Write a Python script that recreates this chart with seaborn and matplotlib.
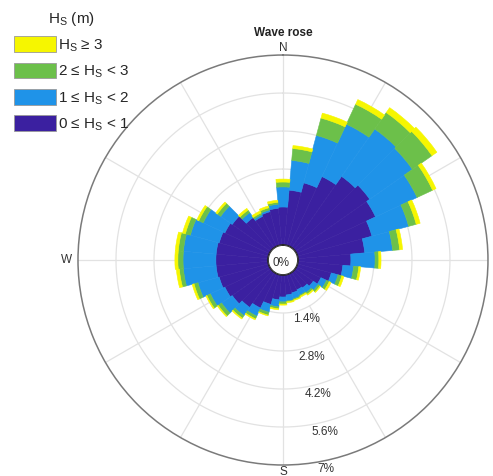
import numpy as np
import matplotlib
matplotlib.use("Agg")
import matplotlib.pyplot as plt
import seaborn as sns
from matplotlib.patches import Patch, Circle

# Direction bins (degrees, clockwise from north), 10-degree sectors
directions = [0, 10, 20, 30, 40, 50, 60, 70, 80, 90, 100, 110,
              120, 130, 140, 150, 160, 170, 180, 190, 200, 210, 220, 230,
              240, 250, 260, 270, 280, 290, 300, 310, 320, 330, 340, 350]

# Frequency of occurrence (%) per direction for each wave-height class
hs_0_1 = [1.40, 2.03, 2.39, 2.84, 3.21, 3.35, 3.21, 2.84, 2.47, 1.95, 1.66, 1.29,
          0.99, 0.81, 0.70, 0.66, 0.70, 0.74, 0.81, 0.92, 1.14, 1.40, 1.58, 1.73,
          1.81, 1.88, 1.92, 1.92, 1.92, 1.88, 1.81, 1.73, 1.36, 1.22, 1.29, 1.36]
hs_1_2 = [0.74, 1.10, 1.81, 2.13, 2.13, 1.92, 1.69, 1.40, 1.03, 0.89, 0.40, 0.26,
          0.23, 0.22, 0.22, 0.22, 0.22, 0.22, 0.18, 0.26, 0.30, 0.33, 0.37, 0.48,
          0.59, 0.81, 1.21, 1.21, 1.21, 1.10, 0.88, 0.52, 0.22, 0.07, 0.07, 0.15]
hs_2_3 = [0.18, 0.44, 0.66, 0.81, 0.74, 0.88, 0.63, 0.29, 0.26, 0.14, 0.19, 0.14,
          0.11, 0.08, 0.07, 0.04, 0.04, 0.03, 0.08, 0.07, 0.11, 0.11, 0.11, 0.15,
          0.14, 0.15, 0.15, 0.19, 0.19, 0.19, 0.18, 0.15, 0.11, 0.07, 0.08, 0.07]
hs_3_up = [0.11, 0.11, 0.19, 0.19, 0.22, 0.22, 0.14, 0.15, 0.11, 0.08, 0.07, 0.08,
           0.07, 0.03, 0.04, 0.04, 0.03, 0.04, 0.04, 0.04, 0.03, 0.04, 0.04, 0.04,
           0.04, 0.07, 0.11, 0.11, 0.11, 0.11, 0.08, 0.07, 0.08, 0.08, 0.07, 0.08]

ring_values = [1.4, 2.8, 4.2, 5.6, 7.0]
ring_labels = ["1.4%", "2.8%", "4.2%", "5.6%", "7%"]
class_labels = ["0 \u2264 H$_\\mathregular{S}$ < 1",
                "1 \u2264 H$_\\mathregular{S}$ < 2",
                "2 \u2264 H$_\\mathregular{S}$ < 3",
                "H$_\\mathregular{S}$ \u2265 3"]
class_colors = ["#3b20a0", "#1f93e8", "#6cc04a", "#f6f600"]

sns.set_theme(style="white")
plt.rcParams["font.family"] = ["Liberation Sans", "DejaVu Sans"]
plt.rcParams["mathtext.fontset"] = "custom"
plt.rcParams["mathtext.rm"] = "Liberation Sans"

fig = plt.figure(figsize=(4.93, 4.76), dpi=100)
ax = fig.add_axes([0.1582, 0.0231, 0.8316, 0.8613], projection="polar")
ax.set_theta_zero_location("N")
ax.set_theta_direction(-1)
ax.set_rorigin(-0.5526)
ax.set_ylim(0, 7)
ax.set_xticks([])
ax.set_yticks([])
ax.grid(False)
ax.set_facecolor("white")
ax.spines["polar"].set_color("#7a7a7a")
ax.spines["polar"].set_linewidth(1.1)
ax.spines["inner"].set_visible(False)

grid_color = "#e2e2e2"
full = np.linspace(0, 2 * np.pi, 361)
for rv in ring_values[:-1]:
    ax.plot(full, np.full_like(full, rv), color=grid_color, lw=0.9, zorder=1)
for deg in range(0, 360, 30):
    t = np.deg2rad(deg)
    ax.plot([t, t], [ring_values[0], ring_values[-1]], color=grid_color, lw=0.9, zorder=1)

theta = np.deg2rad(directions)
width = np.deg2rad(10)
bottom = np.zeros(len(directions))
for vals, col in zip([hs_0_1, hs_1_2, hs_2_3, hs_3_up], class_colors):
    vals = np.asarray(vals)
    ax.bar(theta, vals, width=width, bottom=bottom, color=col,
           edgecolor=col, linewidth=0.4, zorder=2, align="center")
    bottom = bottom + vals

# blank centre disc
ax.add_patch(Circle((0.5, 0.5), 14.8 / 410, transform=ax.transAxes,
                    facecolor="white", edgecolor="none", zorder=4))

# radial scale labels
lab_t = np.deg2rad(170.7)
for rv, lab in zip(ring_values, ring_labels):
    ax.text(lab_t, rv + 0.26, lab, ha="left", va="center", fontsize=8.5,
            color="#333333", zorder=5, clip_on=False)
ax.text(0.495, 0.492, "0%", transform=ax.transAxes, ha="center", va="center",
        fontsize=8.5, color="#333333", zorder=5)

# cardinal directions
for lab, deg, r in [("N", 0, 7.26), ("E", 90, 7.40), ("S", 180, 7.26), ("W", 270, 7.44)]:
    ax.text(np.deg2rad(deg), r, lab, ha="center", va="center", fontsize=8.5,
            color="#333333", clip_on=False)

fig.text(283 / 493, 1 - 33 / 476, "Wave rose", ha="center", va="center",
         fontsize=8.5, fontweight="bold", color="#222222")

handles = [Patch(facecolor=c, edgecolor="#9a9a9a", linewidth=0.6) for c in class_colors]
leg = fig.legend(handles[::-1], class_labels[::-1], loc="upper left",
                 bbox_to_anchor=(0.0, 1.008), frameon=False, fontsize=11,
                 title="H$_\\mathregular{S}$ (m)", title_fontsize=11,
                 handlelength=2.75, handleheight=1.2, labelspacing=0.56,
                 handletextpad=0.15, borderpad=0.4)

fig.savefig("out.png", dpi=100, facecolor="white")
